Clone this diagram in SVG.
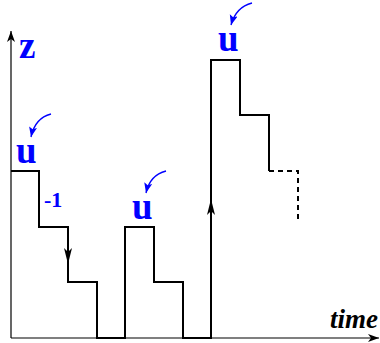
<svg xmlns="http://www.w3.org/2000/svg" width="380" height="343" viewBox="0 0 380 343">
<style>
.ax{stroke:#000;stroke-width:1.2;fill:none}
.st{stroke:#000;stroke-width:2;fill:none;stroke-linejoin:miter}
.ds{stroke:#000;stroke-width:2;fill:none;stroke-dasharray:5,4}
.bl{fill:#0000ff;font-family:"Liberation Serif",serif;font-weight:bold}
.cu{stroke:#0000ff;stroke-width:1.3;fill:none}
</style>
<defs>
<marker id="ah" markerWidth="12" markerHeight="10" refX="11" refY="4" orient="auto" markerUnits="userSpaceOnUse">
<path d="M0,0 L11,4 L0,8 L3,4 Z" fill="#000"/>
</marker>
<marker id="sh" markerWidth="17" markerHeight="10" refX="16" refY="4" orient="auto" markerUnits="userSpaceOnUse">
<path d="M0,0 L16,4 L0,8 L4,4 Z" fill="#000"/>
</marker>
<marker id="bh" markerWidth="11" markerHeight="10" refX="10" refY="4" orient="auto" markerUnits="userSpaceOnUse">
<path d="M0,0 L10,4 L0,8 L2,4 Z" fill="#0000ff"/>
</marker>
</defs>
<g id="axes">
<line class="ax" x1="11" y1="338" x2="11" y2="31" marker-end="url(#ah)"/>
<line class="ax" x1="11" y1="338" x2="379" y2="338" marker-end="url(#ah)"/>
</g>
<g id="connectors">
<path class="st" d="M11,171 H39 V227 H68 V282 H97 V338 H125 V227 H154 V282 H183 V338 H211 V60 H240 V115 H269 V171"/>
<path class="ds" d="M269,171 H298 V222"/>
<path d="M68,227 V264" stroke="#000" stroke-width="2" marker-end="url(#sh)"/>
<path d="M211,338 V199" stroke="#000" stroke-width="2" marker-end="url(#sh)"/>
<path class="cu" d="M51,114 Q35,118 31,137" marker-end="url(#bh)"/>
<path class="cu" d="M166,171 Q150,175 146,193" marker-end="url(#bh)"/>
<path class="cu" d="M252,3 Q236,7 231,25" marker-end="url(#bh)"/>
</g>
<g id="labels">
<text class="bl" x="19" y="58" font-size="37">z</text>
<text class="bl" x="16" y="163" font-size="37">u</text>
<text class="bl" x="132" y="219" font-size="37">u</text>
<text class="bl" x="218" y="51" font-size="37">u</text>
<text class="bl" x="44" y="207" font-size="22">-1</text>
<text x="330" y="328" font-size="27" font-family="Liberation Serif,serif" font-weight="bold" font-style="italic">time</text>
</g>
</svg>
